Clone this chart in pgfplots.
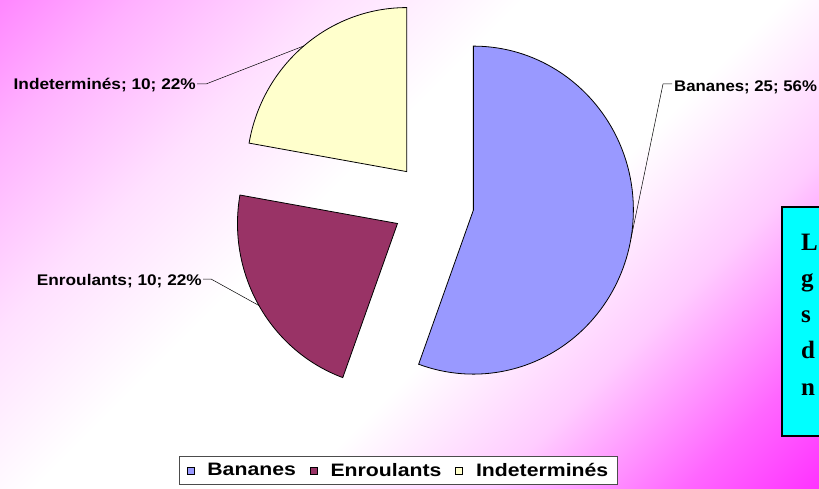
\documentclass[border=0pt]{standalone}
\usepackage{pgfplots}
\pgfplotsset{compat=1.18}
\usetikzlibrary{calc}
\usepackage{fontspec}
\setmainfont{Liberation Sans}
\newfontfamily\lab[FakeStretch=1.12]{Liberation Sans}
\newfontfamily\labn[FakeStretch=1.09]{Liberation Sans}
\newfontfamily\legf[FakeStretch=1.18]{Liberation Sans}
\newfontfamily\serifb{Liberation Serif}
\definecolor{cA}{HTML}{9999FF}
\definecolor{cB}{HTML}{993366}
\definecolor{cC}{HTML}{FFFFCC}
\definecolor{boxcyan}{HTML}{00FFFF}
\definecolor{bg0}{HTML}{FF33FF}
\definecolor{bg1}{HTML}{FF66FF}
\definecolor{bg2}{HTML}{FFCCFF}
\definecolor{bg5}{HTML}{FFE0FF}
\definecolor{bg6}{HTML}{FFB0FF}
\definecolor{bg7}{HTML}{FF88FF}
\pgfdeclarehorizontalshading{bgshade}{100bp}{color(0bp)=(bg0); color(14.6bp)=(bg0); color(21.7bp)=(bg1); color(32.3bp)=(bg2); color(42.9bp)=(white); color(57.1bp)=(white); color(67.7bp)=(bg5); color(78.3bp)=(bg6); color(85.4bp)=(bg7); color(100bp)=(bg7)}
\begin{document}
\begin{tikzpicture}[x=1pt,y=1pt]
\useasboundingbox (0,0) rectangle (819,488);
\clip (0,0) rectangle (819,488);
\shade[shading=bgshade, shading angle=135] (0,0) rectangle (819,488);
% text box (partly outside the picture)
\draw[fill=boxcyan, line width=1.5pt] (782,52) rectangle (850,281);
\foreach \y/\t in {238/L, 202/g, 166/s, 130/d, 93/n}
  \node[anchor=base west, inner sep=0, font=\serifb\bfseries\fontsize{25}{30}\selectfont] at (801,\y) {\t};
% data: Bananes 25, Enroulants 10, Indeterminés 10
\def\vA{25}\def\vB{10}\def\vC{10}
\pgfmathsetmacro\tot{\vA+\vB+\vC}
\pgfmathsetmacro\sA{90}
\pgfmathsetmacro\eA{\sA-360*\vA/\tot}
\pgfmathsetmacro\sB{\eA}
\pgfmathsetmacro\eB{\sB-360*\vB/\tot}
\pgfmathsetmacro\sC{\eB}
\pgfmathsetmacro\eC{\sC-360*\vC/\tot}
\pgfmathsetmacro\mA{(\sA+\eA)/2}
\pgfmathsetmacro\mB{(\sB+\eB)/2}
\pgfmathsetmacro\mC{(\sC+\eC)/2}
\begin{axis}[
  x=1pt, y=1pt, xmin=0, xmax=819, ymin=0, ymax=488,
  hide axis, clip=false,
  legend columns=-1,
  legend image code/.code={\draw[#1] (0pt,-3.5pt) rectangle (7pt,3.5pt);},
  legend style={at={(axis description cs:0.4866,0.036)}, anchor=center,
    draw=black!70, fill=white, line width=0.6pt,
    font=\legf\bfseries\fontsize{18}{20}\selectfont,
    inner xsep=7pt, inner ysep=5pt,
    /tikz/every odd column/.append style={column sep=11pt},
    /tikz/every even column/.append style={column sep=12pt}},
]
\addlegendimage{fill=cA, draw=black, line width=0.6pt}
\addlegendentry{Bananes}
\addlegendimage{fill=cB, draw=black, line width=0.6pt}
\addlegendentry{Enroulants}
\addlegendimage{fill=cC, draw=black, line width=0.6pt}
\addlegendentry{Indeterminés}
% wedges (exploded)
\filldraw[fill=cA, draw=black, line width=0.8pt] (axis cs:433,285) ++(\mA:41pt) coordinate (tA)
  -- ++(\sA:160pt and 164pt) arc[start angle=\sA, end angle=\eA, x radius=160pt, y radius=164pt] -- cycle;
\filldraw[fill=cB, draw=black, line width=0.8pt] (axis cs:433,285) ++(\mB:41pt) coordinate (tB)
  -- ++(\sB:160pt and 164pt) arc[start angle=\sB, end angle=\eB, x radius=160pt, y radius=164pt] -- cycle;
\filldraw[fill=cC, draw=black, line width=0.8pt] (axis cs:433,285) ++(\mC:41pt) coordinate (tC)
  -- ++(\sC:160pt and 164pt) arc[start angle=\sC, end angle=\eC, x radius=160pt, y radius=164pt] -- cycle;
% labels and leader lines
\node[anchor=base east, inner sep=0, font=\lab\bfseries\fontsize{15.4}{18}\selectfont] at (axis cs:196,398) {Indeterminés; 10; 22\%};
\draw[line width=0.5pt] (axis cs:197,404) -- (axis cs:206,404) -- ($(tC)+(\mC:160pt and 164pt)$);
\node[anchor=base west, inner sep=0, font=\labn\bfseries\fontsize{15.4}{18}\selectfont] at (axis cs:674,396) {Bananes; 25; 56\%};
\draw[line width=0.5pt] (axis cs:672,404) -- (axis cs:663,404) -- ($(tA)+(\mA:160pt and 164pt)$);
\node[anchor=base east, inner sep=0, font=\lab\bfseries\fontsize{15.4}{18}\selectfont] at (axis cs:202,203) {Enroulants; 10; 22\%};
\draw[line width=0.5pt] (axis cs:203,209) -- (axis cs:211,209) -- ($(tB)+(\mB:160pt and 164pt)$);
\end{axis}
\end{tikzpicture}
\end{document}
